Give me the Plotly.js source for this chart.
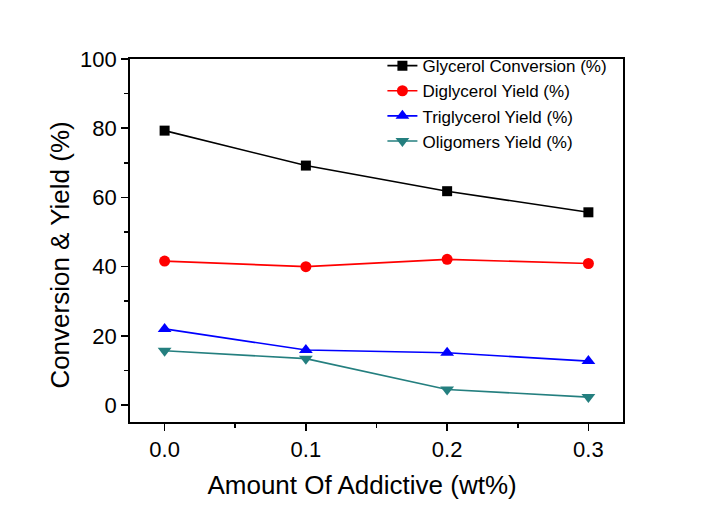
<!DOCTYPE html>
<html>
<head>
<meta charset="utf-8">
<script src="https://cdn.plot.ly/plotly-3.0.1.min.js"></script>
<style>html,body{margin:0;padding:0;background:#fff;}#chart{width:724px;height:506px;}</style>
</head>
<body>
<div id="chart"></div>
<script>
const additive = [0.0, 0.1, 0.2, 0.3];
const glycerolConversion = [79.3, 69.2, 61.8, 55.7];
const diglycerolYield = [41.6, 40.0, 42.1, 40.9];
const triglycerolYield = [22.0, 15.9, 15.1, 12.7];
const oligomersYield = [15.7, 13.4, 4.5, 2.3];
const seriesNames = ["Glycerol Conversion (%)", "Diglycerol Yield (%)", "Triglycerol Yield (%)", "Oligomers Yield (%)"];
const xTickVals = [0.0, 0.1, 0.2, 0.3];
const xTickText = ["0.0", "0.1", "0.2", "0.3"];
const yTickVals = [0, 20, 40, 60, 80, 100];
const xTitle = "Amount Of Addictive (wt%)";
const yTitle = "Conversion &amp; Yield (%)";

const colors = ["#000000", "#ff0000", "#0000ff", "#247f7f"];
const symbols = ["square", "circle", "triangle-up", "triangle-down"];
const sizes = [10, 11, 12, 12];
const ys = [glycerolConversion, diglycerolYield, triglycerolYield, oligomersYield];

const data = ys.map((y, i) => ({
  x: additive, y: y, name: seriesNames[i], type: "scatter", mode: "lines+markers",
  line: {color: colors[i], width: 1.6},
  marker: {color: colors[i], symbol: symbols[i], size: sizes[i]}
}));

// trailing non-breaking spaces shift the titles off-centre, as in the reference
const pad = "&nbsp;&nbsp;&nbsp;&nbsp;";
const font = "Arial, 'Liberation Sans', sans-serif";
const layout = {
  width: 724, height: 506,
  margin: {l: 130, r: 101, t: 59, b: 84},
  paper_bgcolor: "#fff", plot_bgcolor: "#fff",
  font: {family: font, color: "#000"},
  showlegend: true,
  legend: {x: 0.512, y: 1.03, xanchor: "left", yanchor: "top", font: {size: 17, family: font},
           bgcolor: "rgba(0,0,0,0)", borderwidth: 0, tracegroupgap: 0},
  xaxis: {
    range: [-0.0245, 0.3245], tickvals: xTickVals, ticktext: xTickText,
    ticks: "outside", ticklen: 7, tickwidth: 1.5, tickcolor: "#000",
    minor: {dtick: 0.05, tick0: 0, ticks: "outside", ticklen: 4, tickwidth: 1.5, tickcolor: "#000"},
    showline: true, linecolor: "#000", linewidth: 1.8, mirror: true,
    showgrid: false, zeroline: false,
    tickfont: {size: 22, family: font},
    title: {text: xTitle + pad, font: {size: 26, family: font}, standoff: 14}
  },
  yaxis: {
    range: [-4.9, 100], tickvals: yTickVals,
    ticks: "outside", ticklen: 7, tickwidth: 1.5, tickcolor: "#000",
    minor: {dtick: 10, tick0: 0, ticks: "outside", ticklen: 4, tickwidth: 1.5, tickcolor: "#000"},
    showline: true, linecolor: "#000", linewidth: 1.8, mirror: true,
    showgrid: false, zeroline: false,
    tickfont: {size: 22, family: font},
    title: {text: yTitle + pad, font: {size: 26, family: font}, standoff: 3}
  }
};
Plotly.newPlot("chart", data, layout, {displayModeBar: false, staticPlot: true});
</script>
</body>
</html>
